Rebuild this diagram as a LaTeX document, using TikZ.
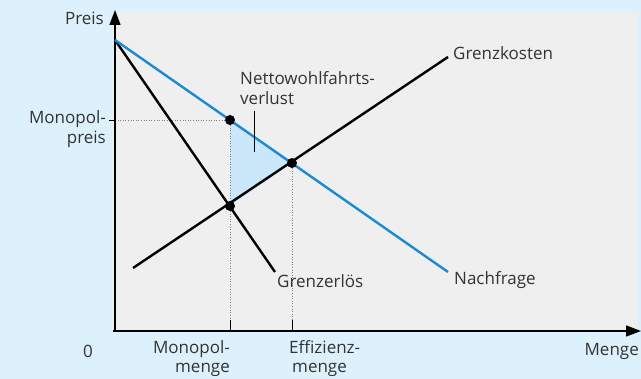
\documentclass[tikz,border=0pt]{standalone}
\usepackage{fontspec}
\setmainfont{Open Sans}
\usetikzlibrary{arrows.meta}
\definecolor{bgblue}{HTML}{DDF1FC}
\definecolor{plotgray}{HTML}{EFEFEF}
\definecolor{curveblue}{HTML}{1A8AD4}
\definecolor{triblue}{HTML}{CBE8FA}
\definecolor{txt}{HTML}{333333}
\tikzset{
  lbl/.style={font=\fontsize{17}{20.5}\selectfont, text=txt, inner sep=0pt},
  lowlbl/.style={font=\fontsize{17}{19}\selectfont, text=txt, inner sep=0pt},
  curve/.style={line width=2.4pt},
  axisline/.style={line width=1.3pt, -{Triangle[length=15pt,width=11pt]}},
  guide/.style={dotted, line width=0.6pt, gray},
  tickmark/.style={line width=0.8pt},
  pt/.style={circle, fill=black, minimum size=10pt, inner sep=0pt},
}
\begin{document}
\begin{tikzpicture}[x=1pt,y=-1pt]
\useasboundingbox (0,0) rectangle (641,379);
\fill[bgblue] (0,0) rectangle (641,379);
\fill[plotgray] (113,12) rectangle (638,331);
% key coordinates
\coordinate (top) at (115,40);
\coordinate (dEnd) at (448,272);
\coordinate (mrEnd) at (275,272);
\coordinate (mcStart) at (133,268);
\coordinate (mcEnd) at (448,57);
\coordinate (mp) at (230,120);
\coordinate (eff) at (292,163);
\coordinate (mc) at (230,206);
\coordinate (orig) at (115,331);
\coordinate (yTip) at (115,10);
\coordinate (xTip) at (641,331);
\coordinate (yM) at (115,120);
\coordinate (xM) at (230,331);
\coordinate (xE) at (292,331);
\coordinate (leadTop) at (254,111);
\coordinate (leadBot) at (254,152);
% triangle
\fill[triblue] (mp) -- (eff) -- (mc) -- cycle;
% guides
\draw[guide] (yM) -- (mp);
\draw[guide] (mp) -- (xM);
\draw[guide] (eff) -- (xE);
\draw[tickmark] (109,120) -- (yM);
\draw[tickmark] (230,320) -- (xM);
\draw[tickmark] (292,320) -- (xE);
% axes
\draw[axisline] (orig) -- (yTip);
\draw[axisline] (113,331) -- (xTip);
% curves
\draw[curve] (top) -- (mrEnd);
\draw[curve] (mcStart) -- (mcEnd);
\draw[curve, curveblue] (top) -- (dEnd);
\draw[line width=1pt] (leadTop) -- (leadBot);
% points
\node[pt] (pM) at (mp) {};
\node[pt] (pE) at (eff) {};
\node[pt] (pC) at (mc) {};
% labels
\node[lbl, anchor=east] (preis) at (104,18) {Preis};
\node[lbl, anchor=north east, align=right] (mpreis) at (106,110) {Monopol-\\preis};
\node[lbl, anchor=west] (gk) at (453,53) {Grenzkosten};
\node[lbl, anchor=north west, align=left] (nwv) at (240,71) {Nettowohlfahrts-\\verlust};
\node[lbl, anchor=west] (ge) at (277,281) {Grenzerlös};
\node[lbl, anchor=west] (nf) at (454,280) {Nachfrage};
\node[lbl] (zero) at (88,351) {0};
\node[lowlbl, anchor=north east, align=right] (mm) at (230,340) {Monopol-\\menge};
\node[lowlbl, anchor=north west, align=left] (em) at (289,340) {Effizienz-\\\hspace*{3pt}menge};
\node[lbl, anchor=east] (menge) at (639,351) {Menge};
\end{tikzpicture}
\end{document}
